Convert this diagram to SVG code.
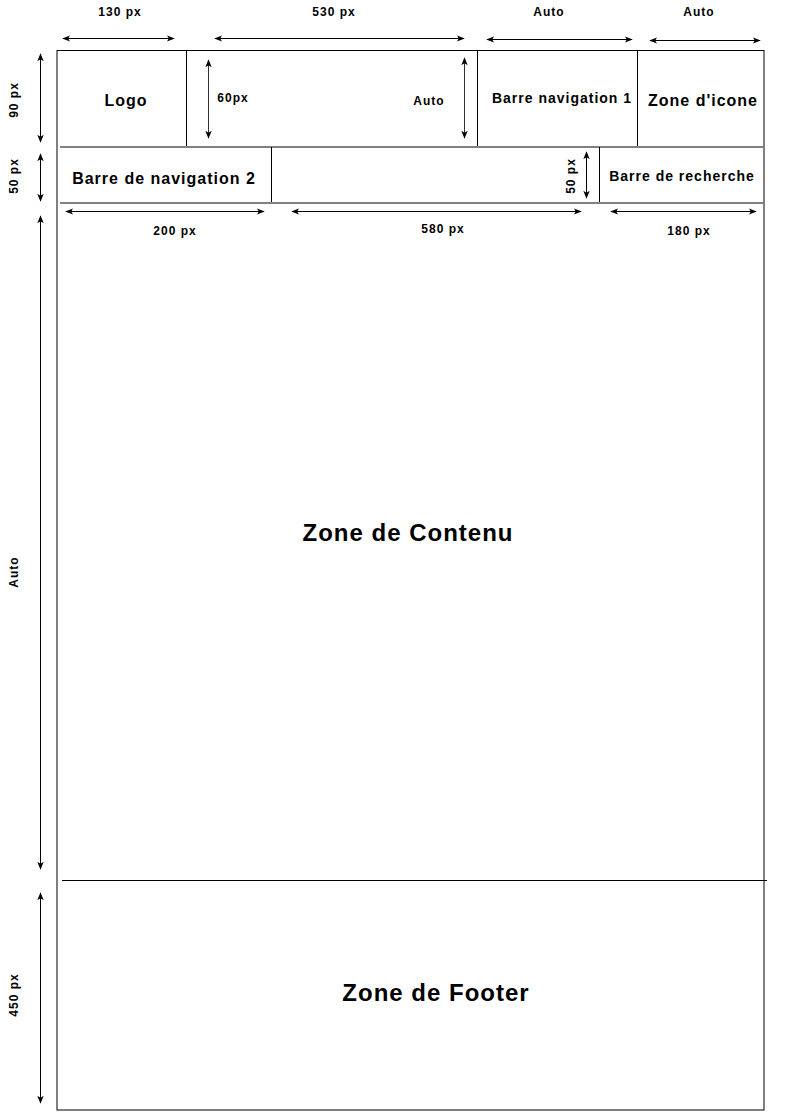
<svg xmlns="http://www.w3.org/2000/svg" width="787" height="1114" viewBox="0 0 787 1114">
  <style>
    .t { font-family: "Liberation Sans", Arial, sans-serif; font-weight: bold; fill: #000; text-anchor: middle; dominant-baseline: central; letter-spacing: 1px; }
    .s12 { font-size: 12px; }
    .s14 { font-size: 14px; }
    .s16 { font-size: 16px; }
    .s24 { font-size: 24px; }
    .frame { fill: none; stroke: #000; stroke-width: 1; }
    .div { stroke: #000; stroke-width: 1; }
    .row { stroke: #808080; stroke-width: 2; }
    .dim { stroke: #000; stroke-width: 1; fill: none; marker-start: url(#ah); marker-end: url(#ah); }
    .dimg { stroke: #333; stroke-width: 1; fill: none; marker-start: url(#ah); marker-end: url(#ah); }
  </style>
  <defs>
    <marker id="ah" viewBox="0 0 10 10" refX="9" refY="5" markerWidth="8" markerHeight="8" orient="auto-start-reverse" markerUnits="userSpaceOnUse">
      <path d="M0,1 L10,5 L0,9 L2.5,5 Z" fill="#000"/>
    </marker>
  </defs>

  <rect width="787" height="1114" fill="#fff"/>

  <!-- page frame -->
  <g id="page">
    <rect class="frame" x="57" y="50.5" width="707" height="1059.5"/>
  </g>

  <!-- header row 1 -->
  <g id="logo">
    <line class="div" x1="186.5" y1="50" x2="186.5" y2="147"/>
    <text class="t s16" x="126" y="100">Logo</text>
  </g>
  <g id="middle-zone">
    <text class="t s12" x="233" y="98">60px</text>
    <text class="t s12" x="429" y="101">Auto</text>
  </g>
  <g id="nav1">
    <line class="div" x1="477.5" y1="50" x2="477.5" y2="147"/>
    <text class="t s14" x="562" y="98">Barre navigation 1</text>
  </g>
  <g id="icons">
    <line class="div" x1="637.5" y1="50" x2="637.5" y2="147"/>
    <text class="t s16" x="703" y="100">Zone d'icone</text>
  </g>

  <!-- header row 2 -->
  <g id="nav2">
    <line class="row" x1="60" y1="147" x2="764" y2="147"/>
    <line class="div" x1="271.5" y1="147" x2="271.5" y2="203"/>
    <text class="t s16" x="164" y="178">Barre de navigation 2</text>
  </g>
  <g id="search">
    <line class="div" x1="599.5" y1="147" x2="599.5" y2="204"/>
    <text class="t s14" x="682" y="176">Barre de recherche</text>
  </g>

  <!-- content -->
  <g id="content">
    <line class="row" x1="60" y1="203" x2="764" y2="203"/>
    <text class="t s24" x="408" y="532">Zone de Contenu</text>
  </g>

  <!-- footer -->
  <g id="footer">
    <line class="div" x1="62" y1="880.5" x2="767" y2="880.5"/>
    <text class="t s24" x="436" y="992">Zone de Footer</text>
  </g>

  <!-- dimension arrows -->
  <g id="connectors">
    <line class="dim" x1="63" y1="38.5" x2="174" y2="38.5"/>
    <line class="dim" x1="215" y1="38.5" x2="464" y2="38.5"/>
    <line class="dim" x1="487" y1="39.5" x2="632" y2="39.5"/>
    <line class="dim" x1="650" y1="40.5" x2="760" y2="40.5"/>

    <line class="dimg" x1="208.5" y1="60" x2="208.5" y2="138"/>
    <line class="dimg" x1="464.5" y1="58" x2="464.5" y2="138"/>
    <line class="dim" x1="586.5" y1="152" x2="586.5" y2="198"/>

    <line class="dim" x1="66" y1="211.5" x2="264" y2="211.5"/>
    <line class="dim" x1="292" y1="211.5" x2="581" y2="211.5"/>
    <line class="dim" x1="611" y1="211.5" x2="756" y2="211.5"/>

    <line class="dim" x1="40.5" y1="54" x2="40.5" y2="142"/>
    <line class="dim" x1="40.5" y1="154" x2="40.5" y2="201"/>
    <line class="dim" x1="40.5" y1="216" x2="40.5" y2="869"/>
    <line class="dim" x1="40.5" y1="893" x2="40.5" y2="1103"/>
  </g>

  <!-- dimension labels -->
  <g id="labels">
    <text class="t s12" x="120" y="12">130 px</text>
    <text class="t s12" x="334" y="12">530 px</text>
    <text class="t s12" x="549" y="12">Auto</text>
    <text class="t s12" x="699" y="12">Auto</text>
    <text class="t s12" x="175" y="231">200 px</text>
    <text class="t s12" x="443" y="229">580 px</text>
    <text class="t s12" x="689" y="231">180 px</text>
    <text class="t s12" transform="translate(571,176) rotate(-90)">50 px</text>
    <text class="t s12" transform="translate(14,100) rotate(-90)">90 px</text>
    <text class="t s12" transform="translate(14,176) rotate(-90)">50 px</text>
    <text class="t s12" transform="translate(14,572) rotate(-90)">Auto</text>
    <text class="t s12" transform="translate(14,995) rotate(-90)">450 px</text>
  </g>
</svg>
